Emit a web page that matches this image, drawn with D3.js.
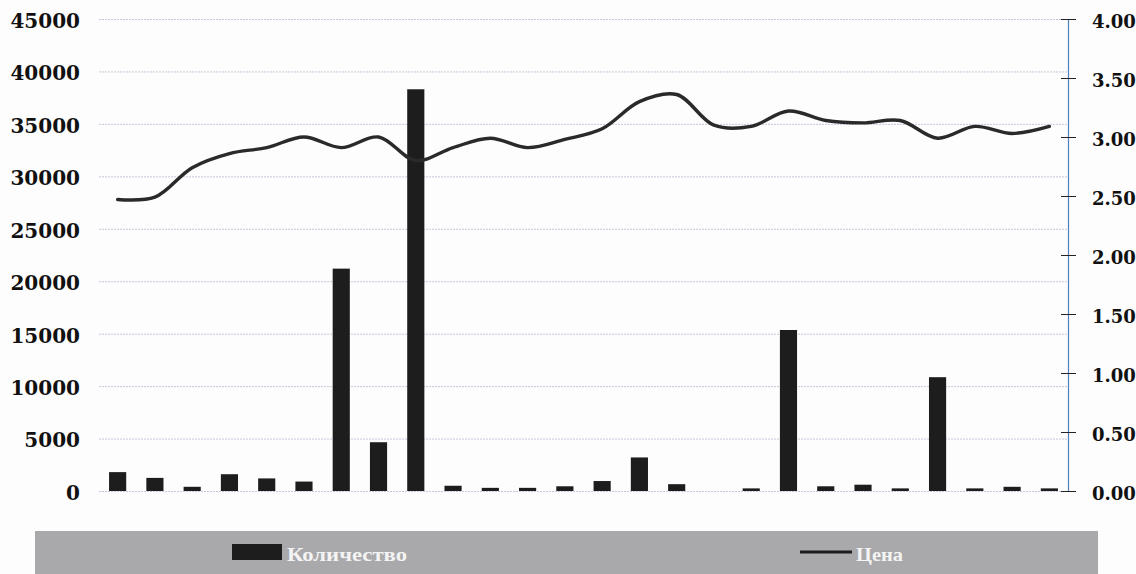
<!DOCTYPE html>
<html>
<head>
<meta charset="utf-8">
<script src="https://cdn.jsdelivr.net/npm/d3@7"></script>
<style>
    body { margin: 0; background: #fdfdfd; }
    svg { display: block; }
</style>
</head>
<body>
<div id="chart"></div>
<script>
// categories have no visible labels in the original, just positions
const categories = d3.range(1, 27).map(String);

const quantity = [1800, 1250, 400, 1600, 1200, 900, 21200, 4650, 38300, 500,
    300, 300, 450, 950, 3200, 650, 0, 250, 15350, 450,
    600, 250, 10850, 250, 400, 250];

const price = [2.47, 2.49, 2.74, 2.86, 2.91, 3.00, 2.91, 3.00, 2.80, 2.91,
    2.99, 2.91, 2.98, 3.07, 3.30, 3.36, 3.10, 3.09, 3.22, 3.14,
    3.12, 3.14, 2.99, 3.09, 3.03, 3.09];

const leftTicks = d3.range(0, 45001, 5000);
const rightTicks = d3.range(0, 4.001, 0.5);

const legendLabels = ['Количество', 'Цена'];

let margin = {top: 19, right: 68, bottom: 83, left: 99},
    width = 1136 - margin.left - margin.right,
    height = 574 - margin.top - margin.bottom;

let svg = d3.select('#chart')
    .append('svg')
    .attr('width', 1136)
    .attr('height', 574);

let g = svg.append('g')
    .attr('transform', 'translate(' + margin.left + ',' + margin.top + ')');

let xScale = d3.scaleBand()
    .domain(categories)
    .range([0, width])
    .paddingInner(0.54)
    .paddingOuter(0.27);

let yLeft = d3.scaleLinear().domain([0, 45000]).range([height, 0]);
let yRight = d3.scaleLinear().domain([0, 4]).range([height, 0]);

const labelFont = '"DejaVu Serif", serif';

// dotted grid lines
g.append('g')
    .attr('class', 'grid')
    .call(d3.axisLeft(yLeft).tickValues(leftTicks).tickSize(-width).tickFormat(''))
    .call(s => s.select('.domain').remove())
    .selectAll('line')
    .attr('stroke', '#c9c5da')
    .attr('stroke-width', 1)
    .attr('stroke-dasharray', '2,1');

// left axis, labels only
g.append('g')
    .call(d3.axisLeft(yLeft).tickValues(leftTicks).tickSize(0).tickPadding(19).tickFormat(d3.format('d')))
    .call(s => s.select('.domain').remove())
    .selectAll('text')
    .attr('dy', '0.42em')
    .style('font-family', labelFont)
    .style('font-weight', 'bold')
    .style('font-size', '20px')
    .style('fill', '#111');

// bars
g.selectAll('.bar')
    .data(quantity)
    .enter().append('rect')
    .attr('class', 'bar')
    .attr('x', (d, i) => xScale(categories[i]))
    .attr('y', d => yLeft(d))
    .attr('width', xScale.bandwidth())
    .attr('height', d => height - yLeft(d))
    .attr('fill', '#1d1d1d');

// price line
let priceLine = d3.line()
    .x((d, i) => xScale(categories[i]) + xScale.bandwidth() / 2)
    .y(d => yRight(d))
    .curve(d3.curveCatmullRom.alpha(0.5));

g.append('path')
    .datum(price)
    .attr('fill', 'none')
    .attr('stroke', '#2a2a2a')
    .attr('stroke-width', 3.4)
    .attr('stroke-linejoin', 'round')
    .attr('stroke-linecap', 'round')
    .attr('d', priceLine);

// right axis
let rightAxis = g.append('g')
    .attr('transform', 'translate(' + width + ',0)')
    .call(d3.axisRight(yRight).tickValues(rightTicks).tickSizeOuter(0).tickSizeInner(8).tickPadding(16).tickFormat(d3.format('.2f')));

rightAxis.select('.domain')
    .attr('stroke', '#4f7fc0')
    .attr('stroke-width', 1.2);

rightAxis.selectAll('.tick line')
    .attr('x1', -7)
    .attr('x2', 8)
    .attr('stroke', '#222');

rightAxis.selectAll('.tick text')
    .attr('dy', '0.45em')
    .style('font-family', labelFont)
    .style('font-weight', 'bold')
    .style('font-size', '18px')
    .style('fill', '#111');

// legend band
let legend = svg.append('g');

legend.append('rect')
    .attr('x', 35)
    .attr('y', 531)
    .attr('width', 1063)
    .attr('height', 43)
    .attr('fill', '#a9a9ab');

legend.append('rect')
    .attr('x', 232)
    .attr('y', 544)
    .attr('width', 50)
    .attr('height', 16)
    .attr('fill', '#1d1d1d');

legend.append('text')
    .attr('x', 287)
    .attr('y', 561)
    .attr('textLength', 120)
    .attr('lengthAdjust', 'spacingAndGlyphs')
    .style('font-family', '"Liberation Serif", serif')
    .style('font-weight', 'bold')
    .style('font-size', '19px')
    .style('fill', '#f4f4f4')
    .text(legendLabels[0]);

legend.append('line')
    .attr('x1', 800)
    .attr('x2', 852)
    .attr('y1', 552)
    .attr('y2', 552)
    .attr('stroke', '#1d1d1d')
    .attr('stroke-width', 3.2);

legend.append('text')
    .attr('x', 856)
    .attr('y', 561)
    .attr('textLength', 47)
    .attr('lengthAdjust', 'spacingAndGlyphs')
    .style('font-family', '"Liberation Serif", serif')
    .style('font-weight', 'bold')
    .style('font-size', '19px')
    .style('fill', '#f4f4f4')
    .text(legendLabels[1]);
</script>
</body>
</html>
